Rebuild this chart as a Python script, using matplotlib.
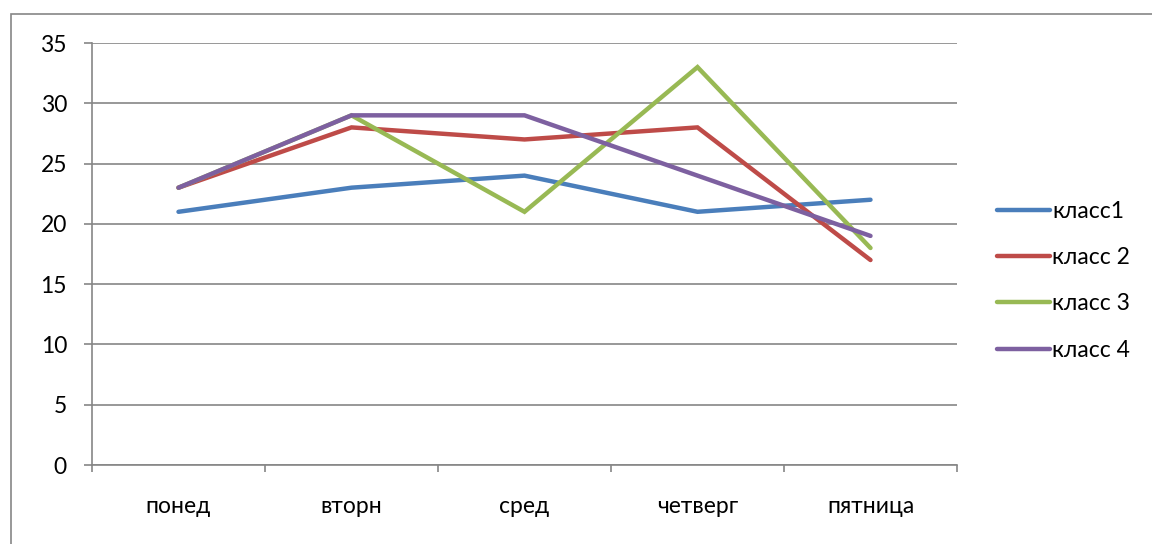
import matplotlib
matplotlib.use("Agg")
import matplotlib.pyplot as plt
from matplotlib.patches import Rectangle

categories = ["понед", "вторн", "сред", "четверг", "пятница"]
series_names = ["класс1", "класс 2", "класс 3", "класс 4"]
klass1 = [21, 23, 24, 21, 22]
klass2 = [23, 28, 27, 28, 17]
klass3 = [23, 29, 21, 33, 18]
klass4 = [23, 29, 29, 24, 19]
colors = ["#4A7EBB", "#BE4B48", "#98B954", "#7D60A0"]
yticks = [0, 5, 10, 15, 20, 25, 30, 35]

plt.rcParams['font.family'] = ['Lato', 'DejaVu Sans']
FS = 16.5
W, H = 1152, 544
fig = plt.figure(figsize=(W/100, H/100), dpi=100)
ax = fig.add_axes([92/W, 1-465/H, (957-92)/W, (465-43)/H])

fig.patches.append(Rectangle((10.5/W, -0.1), 1.2, 1 - 13.5/H + 0.1, transform=fig.transFigure,
                             fill=False, edgecolor="#868686", linewidth=1.2))

x = list(range(len(categories)))
for vals, name, c in zip([klass1, klass2, klass3, klass4], series_names, colors):
    ax.plot(x, vals, color=c, linewidth=3.2, label=name, solid_capstyle='round', solid_joinstyle='miter')

ax.set_xlim(-0.5, len(categories) - 0.5)
ax.set_ylim(0, 35)
ax.set_yticks(yticks)
ax.set_yticklabels([str(v) for v in yticks], fontsize=FS)
ax.set_xticks(x)
ax.set_xticklabels(categories, fontsize=FS)
ax.set_xticks([i - 0.5 for i in range(len(categories) + 1)], minor=True)
ax.tick_params(axis='x', which='major', length=0, pad=22)
ax.tick_params(axis='x', which='minor', length=5, color="#868686", width=1.2)
ax.tick_params(axis='y', length=6, color="#868686", width=1.2, pad=12)
ax.grid(axis='y', color="#868686", linewidth=1.2)
ax.set_axisbelow(True)
for s in ['top', 'right']:
    ax.spines[s].set_visible(False)
for s in ['left', 'bottom']:
    ax.spines[s].set_color("#868686")
    ax.spines[s].set_linewidth(1.2)

leg = fig.legend(loc='upper left', bbox_to_anchor=(997/W, 1-201/H), frameon=False,
                 fontsize=FS, handlelength=2.3, handletextpad=0.12, labelspacing=1.1,
                 borderpad=0, borderaxespad=0)

fig.savefig("out.png", dpi=100)
